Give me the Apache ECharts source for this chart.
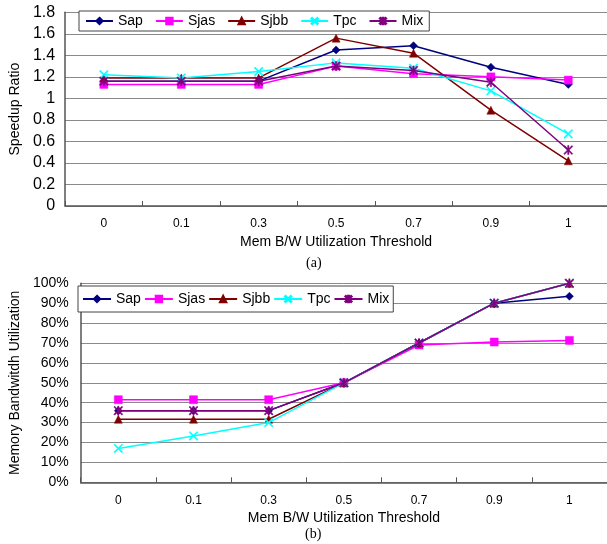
<!DOCTYPE html>
<html>
<head>
<meta charset="utf-8">
<script src="https://cdn.jsdelivr.net/npm/echarts@6/dist/echarts.min.js"></script>
<style>html,body{margin:0;padding:0;background:#fff}#c{width:607px;height:544px}</style>
</head>
<body>
<div id="c"></div>
<script>
const categories = ['0', '0.1', '0.3', '0.5', '0.7', '0.9', '1'];
const seriesNames = ['Sap', 'Sjas', 'Sjbb', 'Tpc', 'Mix'];

// (a) Speedup Ratio
const speedupSap  = [1.16, 1.16, 1.16, 1.45, 1.49, 1.29, 1.13];
const speedupSjas = [1.13, 1.13, 1.13, 1.30, 1.23, 1.20, 1.17];
const speedupSjbb = [1.19, 1.19, 1.19, 1.56, 1.42, 0.89, 0.42];
const speedupTpc  = [1.22, 1.19, 1.25, 1.33, 1.28, 1.07, 0.67];
const speedupMix  = [1.16, 1.16, 1.16, 1.30, 1.26, 1.15, 0.52];

// (b) Memory Bandwidth Utilization (%)
const bwSap  = [36, 36, 36, 50, 70, 90, 93.5];
const bwSjas = [41.5, 41.5, 41.5, 50, 69, 70.5, 71.3];
const bwSjbb = [31.7, 31.7, 31.7, 50, 70, 90, 100];
const bwTpc  = [17, 23.3, 30, 50, 70, 90, 100];
const bwMix  = [36, 36, 36, 50, 70, 90, 100];

const speedupTicks = { min: 0, max: 1.8, interval: 0.2 };
const bwTicks = { min: 0, max: 100, interval: 10 };

const colors = ['#000080', '#FF00FF', '#800000', '#00FFFF', '#800080'];
const xPath = 'path://M0,1L1,0L5,4L9,0L10,1L6,5L10,9L9,10L5,6L1,10L0,9L4,5Z';
const starPath = 'path://M0,1L1,0L4.3,3.3L4.3,0L5.7,0L5.7,3.3L9,0L10,1L6.3,4.7L6.3,5.3L10,9L9,10L5.7,6.7L5.7,10L4.3,10L4.3,6.7L1,10L0,9L3.7,5.3L3.7,4.7Z';
const symbols = ['diamond', 'rect', 'triangle', xPath, starPath];
const symbolSizes = [8, 8, 8, 9, 9];

const font = 'Liberation Sans, Arial, sans-serif';

function makeSeries(dataArr, axisIdx) {
  return dataArr.map((d, i) => ({
    name: seriesNames[i],
    type: 'line',
    xAxisIndex: axisIdx,
    yAxisIndex: axisIdx,
    data: d,
    symbol: symbols[i],
    symbolSize: symbolSizes[i],
    showAllSymbol: true,
    lineStyle: { color: colors[i], width: 1.5 },
    itemStyle: { color: colors[i], borderColor: colors[i], borderWidth: 0.5 },
    emphasis: { disabled: true },
    animation: false,
    z: 2 + i
  }));
}

function xAxisCfg(gridIndex) {
  return {
    type: 'category',
    gridIndex: gridIndex,
    data: categories,
    boundaryGap: true,
    name: 'Mem B/W Utilization Threshold',
    nameLocation: 'middle',
    nameGap: 29,
    nameTextStyle: { fontFamily: font, fontSize: 14, color: '#000' },
    axisLine: { lineStyle: { color: '#555', width: 1.5 } },
    axisTick: { show: true, inside: true, length: 5, lineStyle: { color: '#555' } },
    axisLabel: { fontFamily: font, fontSize: 12, color: '#000', margin: 12 },
    splitLine: { show: false }
  };
}

const legendBase = {
  data: seriesNames,
  orient: 'horizontal',
  backgroundColor: '#fff',
  borderColor: '#444',
  borderWidth: 1,
  itemHeight: 8,
  textStyle: { fontFamily: font, fontSize: 14, color: '#000' },
  selectedMode: false
};

const option = {
  backgroundColor: '#fff',
  animation: false,
  grid: [
    { left: 59, top: 12.3, width: 550, height: 193.7, containLabel: false },
    { left: 70, top: 283.3, width: 541, height: 199, containLabel: false }
  ],
  legend: [
    Object.assign({}, legendBase, { left: 79, top: 11, padding: [3, 6, 3, 6], itemGap: 12, itemWidth: 27 }),
    Object.assign({}, legendBase, { left: 78, top: 286, padding: [6, 4, 6, 4], itemGap: 3, itemWidth: 28 })
  ],
  xAxis: [xAxisCfg(0), xAxisCfg(1)],
  yAxis: [
    {
      type: 'value', gridIndex: 0,
      min: speedupTicks.min, max: speedupTicks.max, interval: speedupTicks.interval,
      name: 'Speedup Ratio', nameLocation: 'middle', nameGap: 38, nameRotate: 90,
      nameTextStyle: { fontFamily: font, fontSize: 14, color: '#000' },
      axisLine: { show: true, lineStyle: { color: '#555', width: 1.5 } },
      axisTick: { show: false },
      axisLabel: { fontFamily: font, fontSize: 16, color: '#000', margin: 10,
        formatter: v => String(Math.round(v * 10) / 10) },
      splitLine: { show: true, lineStyle: { color: '#8a8a8a', width: 1 } }
    },
    {
      type: 'value', gridIndex: 1,
      min: bwTicks.min, max: bwTicks.max, interval: bwTicks.interval,
      name: 'Memory Bandwitdh Utilization', nameLocation: 'middle', nameGap: 48, nameRotate: 90,
      nameTextStyle: { fontFamily: font, fontSize: 14, color: '#000' },
      axisLine: { show: true, lineStyle: { color: '#555', width: 1.5 } },
      axisTick: { show: false },
      axisLabel: { fontFamily: font, fontSize: 14, color: '#000', margin: 12,
        formatter: v => Math.round(v) + '%' },
      splitLine: { show: true, lineStyle: { color: '#8a8a8a', width: 1 } }
    }
  ],
  graphic: [
    { type: 'text', left: 306, top: 256, style: { text: '(a)', font: '14px "Liberation Serif", "Times New Roman", serif', fill: '#000' } },
    { type: 'text', left: 305, top: 527, style: { text: '(b)', font: '14px "Liberation Serif", "Times New Roman", serif', fill: '#000' } }
  ],
  series: makeSeries([speedupSap, speedupSjas, speedupSjbb, speedupTpc, speedupMix], 0)
    .concat(makeSeries([bwSap, bwSjas, bwSjbb, bwTpc, bwMix], 1))
};

const chart = echarts.init(document.getElementById('c'), null, { renderer: 'canvas' });
chart.setOption(option);
</script>
</body>
</html>
